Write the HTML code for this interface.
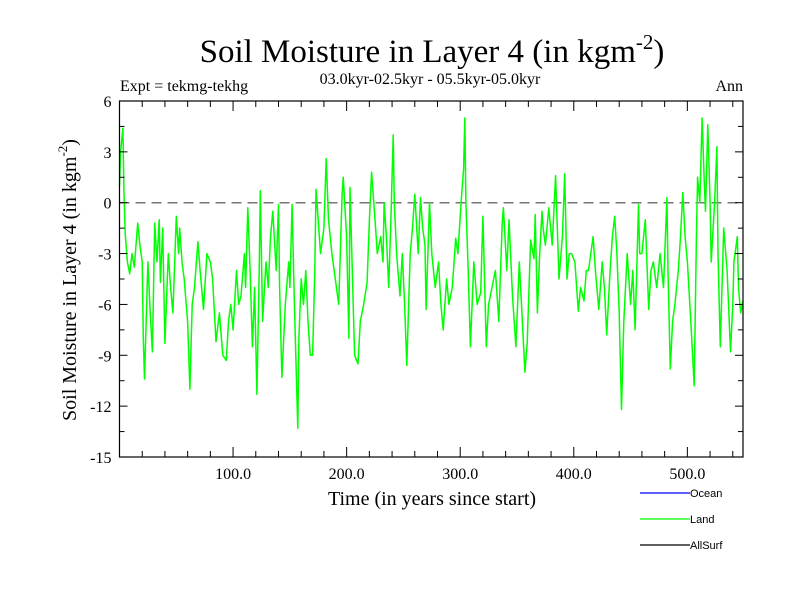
<!DOCTYPE html>
<html><head><meta charset="utf-8"><style>
body{margin:0;background:#fff}
svg{display:block}
text{font-family:"Liberation Serif",serif;fill:#000}
.s{font-family:"Liberation Sans",sans-serif}
</style></head><body>
<svg id="c" width="800" height="600" viewBox="0 0 800 600">
<text x="432" y="62" font-size="33" text-anchor="middle">Soil Moisture in Layer 4 (in kgm<tspan dy="-13" font-size="21">-2</tspan><tspan dy="13">)</tspan></text>
<text x="430" y="84" font-size="16" text-anchor="middle">03.0kyr-02.5kyr - 05.5kyr-05.0kyr</text>
<text x="120" y="91" font-size="16">Expt = tekmg-tekhg</text>
<text x="743" y="91" font-size="16" text-anchor="end">Ann</text>
<text transform="translate(76,280) rotate(-90)" font-size="20" text-anchor="middle">Soil Moisture in Layer 4 (in kgm<tspan dy="-9" font-size="13">-2</tspan><tspan dy="9">)</tspan></text>
<text x="432" y="505" font-size="20" text-anchor="middle">Time (in years since start)</text>
<g>
<line x1="640" y1="493" x2="690" y2="493" stroke="#0000ff" stroke-width="1.3"/>
<text class="s" x="690" y="497" font-size="11">Ocean</text>
<line x1="640" y1="519" x2="690" y2="519" stroke="#00ff00" stroke-width="1.3"/>
<text class="s" x="690" y="523" font-size="11">Land</text>
<line x1="640" y1="545" x2="690" y2="545" stroke="#000" stroke-width="1.3"/>
<text class="s" x="690" y="549" font-size="11">AllSurf</text>
</g>
<g id="plot"></g>
</svg>
<script>
const years=[0,1,3,4,5,7,9,11,13,16,18,20,21,22,25,27,29,31,33,35,36,38,40,43,45,47,50,52,53,55,57,60,62,64,66,69,71,74,77,80,82,85,88,91,94,96,98,100,103,105,107,110,111,113,115,117,119,121,123,124,126,129,131,133,135,138,140,141,143,146,149,150,152,154,157,158,160,162,164,166,168,170,172,173,175,177,180,182,184,187,190,193,196,197,200,202,203,205,207,210,212,215,218,220,222,225,227,230,232,233,235,237,239,241,242,244,247,249,251,253,256,258,260,263,265,267,269,270,273,275,278,281,283,285,288,290,293,296,298,301,303,304,305,307,309,312,315,318,320,323,325,328,331,334,337,338,341,343,346,349,352,354,357,359,362,365,366,368,370,372,373,375,378,381,384,387,390,392,394,396,398,401,404,406,409,411,413,415,417,419,422,425,427,429,432,434,436,438,440,442,444,447,450,452,454,457,458,460,463,466,468,470,473,476,479,482,483,485,487,489,492,494,496,498,500,503,506,508,509,511,513,515,516,518,520,521,524,526,527,529,532,535,538,540,541,544,545,547,549];
const land=[1,3,4.4,0.5,-1.8,-3.5,-4.2,-3,-3.8,-1.2,-2.5,-3.5,-8,-10.4,-3.5,-6.5,-8.8,-1.2,-3.5,-1,-4.7,-1.5,-8.3,-3,-5,-6.5,-0.8,-3,-1.5,-3.5,-4.5,-7,-11,-6,-5,-2.3,-4,-6.3,-3,-3.5,-4.5,-8.2,-6.5,-9,-9.3,-7,-6,-7.5,-4,-6,-5.5,-3,-5,-0.3,-4,-8.5,-5,-11.3,-4,0.7,-7,-3.5,-5,-2,-0.5,-4,-0.1,-5,-10.3,-6,-3.5,-5,-0.1,-6,-13.3,-8,-4.5,-6,-4,-7,-9,-9,-4,0.8,-1,-3,-1.5,2.6,-1,-3,-4.5,-6,0.5,1.5,-2,-8,0.9,-4,-9,-9.5,-7,-6,-4.7,-1,1.8,-1,-3,-2,-3.5,0,-2,-5,-1,4,0,-3,-5.5,-3,-6,-9.6,-3,-1.5,0.5,-3,0.3,-1.5,-2.5,-6.3,0,-3,-5,-3.5,-6,-7.5,-4.5,-6,-5,-2.1,-3,0.2,2,5,0,-4,-8.5,-3.5,-6,-5.3,-0.8,-8.5,-6,-5,-4,-7,-1.2,-0.3,-4,-1,-5.5,-8.5,-3.5,-6,-10,-8.3,-2.2,-3.3,-0.7,-6.5,-3,-0.5,-1.5,-2.5,-0.3,-2.5,1.6,-4.5,-2,1.7,-4.5,-3,-3,-3.5,-6.4,-5,-5.8,-4,-4,-3,-2,-4,-6.3,-3.5,-5,-7.8,-4,-2,-0.8,-3,-6.5,-12.2,-7,-3,-6,-4,-7.5,-0.1,-3,-3,-1,-6.3,-4,-3.5,-5,-3,-5,0.3,-4,-9.8,-7,-6,-4,-2,0.6,-2,-3.5,-7,-10.8,-2,1.5,0,5,1,-0.5,4.6,0,-3.5,0,3.3,-3,-8.5,-1.5,-4,-8.8,-6,-3.5,-2,-5,-6.5,-5.8];
const yTicks=[6,3,0,-3,-6,-9,-12,-15];
const xTicks=[100,200,300,400,500];
const X0=119.5,X1=743,Y0=101,Y1=457,XMIN=0,XMAX=549,YMIN=-15,YMAX=6;
function sx(v){return X0+(v-XMIN)/(XMAX-XMIN)*(X1-X0);}
function sy(v){return Y1-(v-YMIN)/(YMAX-YMIN)*(Y1-Y0);}
const NS="http://www.w3.org/2000/svg";
const g=document.getElementById('plot');
function mk(t,a){const e=document.createElementNS(NS,t);for(const k in a)e.setAttribute(k,a[k]);g.appendChild(e);return e;}
const z=mk('line',{x1:X0,x2:X1,y1:sy(0),y2:sy(0),stroke:'#777','stroke-width':1.5,'stroke-dasharray':'10,6'});


let d='';
for(let i=0;i<years.length;i++){d+=(i?'L':'M')+sx(years[i]).toFixed(1)+' '+sy(land[i]).toFixed(1);}
const p=mk('path',{d:d,fill:'none',stroke:'#00ff00','stroke-width':1.5,'stroke-linejoin':'round'});


const f=mk('rect',{x:X0,y:Y0,width:X1-X0,height:Y1-Y0,fill:'none',stroke:'#000','stroke-width':1.2});


for(let v=YMIN;v<=YMAX+0.01;v+=1.5){
 const major=Math.abs(v%3)<0.01;const L=major?8:5;
 mk('line',{x1:X0,x2:X0+L,y1:sy(v),y2:sy(v),stroke:'#000'});
 mk('line',{x1:X1,x2:X1-L,y1:sy(v),y2:sy(v),stroke:'#000'});
}
yTicks.forEach(v=>{const t=mk('text',{x:X0-8,y:sy(v)+6,'font-size':16,'text-anchor':'end'});t.textContent=String(v);

});
for(let v=20;v<XMAX;v+=20){
 const major=v%100===0;const L=major?10:6;
 mk('line',{x1:sx(v),x2:sx(v),y1:Y1,y2:Y1-L,stroke:'#000'});
 mk('line',{x1:sx(v),x2:sx(v),y1:Y0,y2:Y0+L,stroke:'#000'});
}
xTicks.forEach(v=>{const t=mk('text',{x:sx(v),y:Y1+22,'font-size':16,'text-anchor':'middle'});t.textContent=v.toFixed(1);

});
</script>
</body></html>
